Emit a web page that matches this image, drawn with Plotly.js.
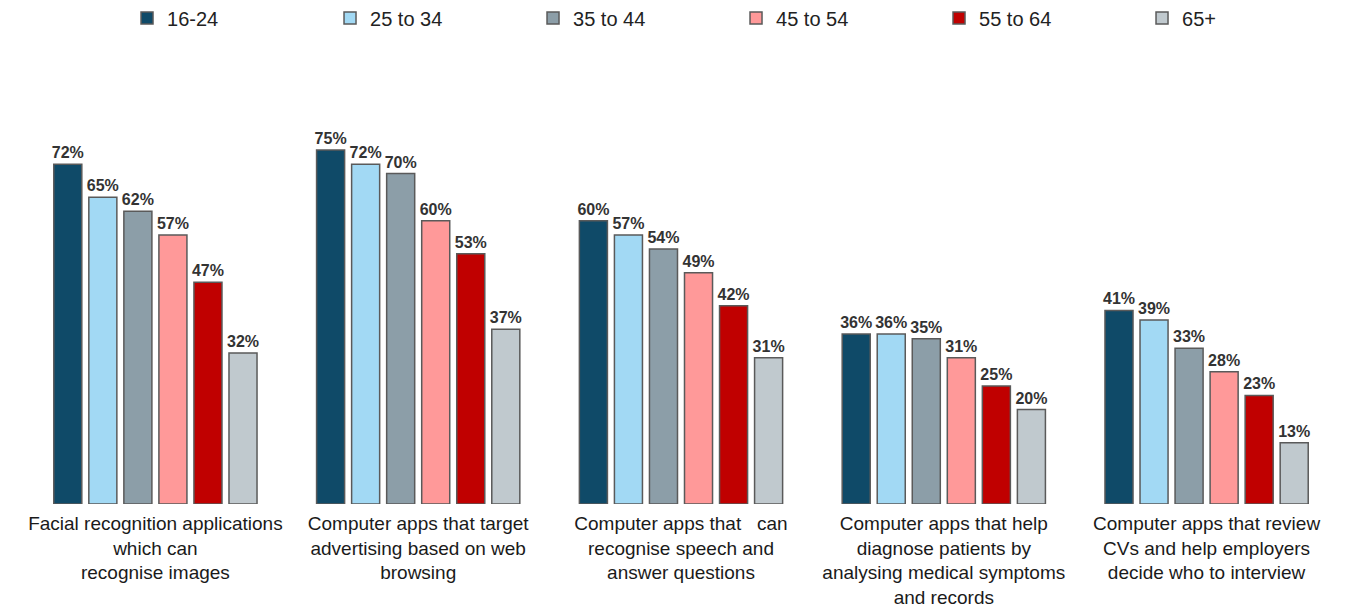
<!DOCTYPE html>
<html>
<head>
<meta charset="utf-8">
<script src="https://cdn.plot.ly/plotly-3.0.1.min.js"></script>
<style>html,body{margin:0;padding:0;background:#fff;}#chart{width:1353px;height:608px;}</style>
</head>
<body>
<div id="chart"></div>
<script>
var categories = [
  "Facial recognition applications<br>which can<br>recognise images",
  "Computer apps that target<br>advertising based on web<br>browsing",
  "Computer apps that \u00A0 can<br>recognise speech and<br>answer questions",
  "Computer apps that help<br>diagnose patients by<br>analysing medical symptoms<br>and records",
  "Computer apps that review<br>CVs and help employers<br>decide who to interview"
];
var seriesNames = ["16-24", "25 to 34", "35 to 44", "45 to 54", "55 to 64", "65+"];
var age16to24 = [72, 75, 60, 36, 41];
var age25to34 = [65, 72, 57, 36, 39];
var age35to44 = [62, 70, 54, 35, 33];
var age45to54 = [57, 60, 49, 31, 28];
var age55to64 = [47, 53, 42, 25, 23];
var age65plus = [32, 37, 31, 20, 13];
var seriesValues = [age16to24, age25to34, age35to44, age45to54, age55to64, age65plus];
var seriesColors = ["#0F4A68", "#A2D9F4", "#8C9EA8", "#FF9999", "#C00000", "#C0C9CE"];

var FONT = 'Arial, "Liberation Sans", sans-serif';
var traces = seriesNames.map(function (name, i) {
  return {
    type: 'bar',
    name: name,
    x: categories,
    y: seriesValues[i],
    marker: { color: seriesColors[i], line: { color: '#5a5a5a', width: 1.5 } },
    texttemplate: '%{y}%',
    textposition: 'outside',
    constraintext: 'none',
    cliponaxis: false,
    textfont: { family: FONT, size: 16, color: '#333333', weight: 'bold' },
    hoverinfo: 'skip'
  };
});

var layout = {
  width: 1353,
  height: 608,
  margin: { l: 24, r: 15, t: 32, b: 104, autoexpand: false },
  paper_bgcolor: '#ffffff',
  plot_bgcolor: '#ffffff',
  barmode: 'group',
  bargap: 0.2,
  bargroupgap: 0.2,
  font: { family: FONT, color: '#1a1a1a' },
  showlegend: true,
  legend: {
    orientation: 'h',
    x: 0.0784,
    xanchor: 'left',
    y: 1.0297,
    yanchor: 'middle',
    entrywidth: 158,
    entrywidthmode: 'pixels',
    font: { family: FONT, size: 20, color: '#222222' },
    traceorder: 'normal'
  },
  xaxis: {
    showline: false,
    showgrid: false,
    zeroline: false,
    ticks: '',
    ticklabelstandoff: 6,
    tickfont: { family: FONT, size: 19, color: '#1a1a1a' },
    automargin: false
  },
  yaxis: {
    range: [0, 100],
    visible: false,
    showgrid: false,
    zeroline: false,
    fixedrange: true
  }
};

Plotly.newPlot('chart', traces, layout, { displayModeBar: false, staticPlot: true });
</script>
</body>
</html>
